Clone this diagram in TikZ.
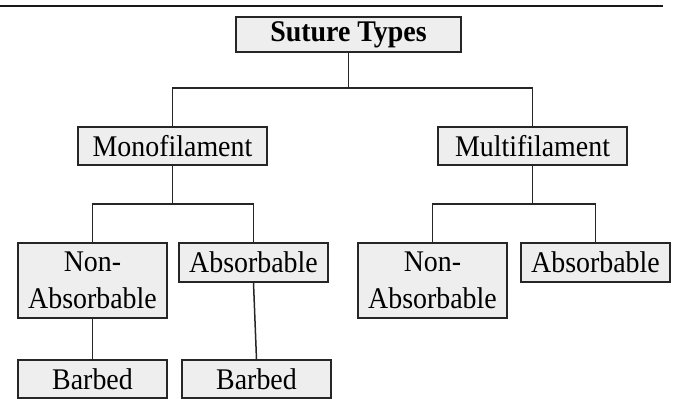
\documentclass[tikz,border=0pt]{standalone}
\usepackage{fontspec}
\setmainfont[FakeStretch=0.93]{Liberation Serif}
\usepackage{tikz}
\usetikzlibrary{positioning}

\begin{document}
\begin{tikzpicture}[
  x=1pt, y=-1pt,
  typebox/.style={draw=black!85, fill=gray!13, line width=1.6pt, inner sep=0pt, align=center,
    font=\fontsize{30}{37}\selectfont},
  link/.style={draw=black!85, line width=1.5pt}
]
  \useasboundingbox (0,0) rectangle (673,399);
  \draw[black!90, line width=1.8pt] (0,6) -- (663,6);

  \node[typebox, minimum width=225pt, minimum height=35pt, font=\fontsize{30}{37}\selectfont\bfseries] (ST) at (348.5,34.5) {Suture Types};
  \node[typebox, minimum width=189pt, minimum height=38pt] (Mono) at (172.5,146) {Monofilament};
  \node[typebox, minimum width=189pt, minimum height=38pt] (Multi) at (532.5,146) {Multifilament};

  \node[typebox, minimum width=149pt, minimum height=75pt] (MonoNon) at (92.5,280.5) {Non-\\Absorbable};
  \node[typebox, minimum width=149pt, minimum height=39pt] (MonoAbs) at (253.5,262.5) {Absorbable};
  \node[typebox, minimum width=149pt, minimum height=75pt] (MultiNon) at (432.5,280.5) {Non-\\Absorbable};
  \node[typebox, minimum width=149pt, minimum height=39pt] (MultiAbs) at (595.5,262.5) {Absorbable};

  \node[typebox, minimum width=149pt, minimum height=38pt] (BarbA) at (92.5,379) {Barbed};
  \node[typebox, minimum width=149pt, minimum height=38pt] (BarbB) at (256.5,379) {Barbed};

  \coordinate (J0) at (348.5,88);
  \coordinate (J1) at (172.5,204);
  \coordinate (J2) at (532.5,204);

  \draw[link] (ST.south) -- (J0);
  \draw[link] (Mono.north) |- (J0) -| (Multi.north);
  \draw[link] (Mono.south) -- (J1);
  \draw[link] (MonoNon.north) |- (J1) -| (MonoAbs.north);
  \draw[link] (Multi.south) -- (J2);
  \draw[link] (MultiNon.north) |- (J2) -| (MultiAbs.north);
  \draw[link] (MonoNon.south) -- (BarbA.north);
  \draw[link] (MonoAbs.south) -- (BarbB.north);
\end{tikzpicture}
\end{document}
